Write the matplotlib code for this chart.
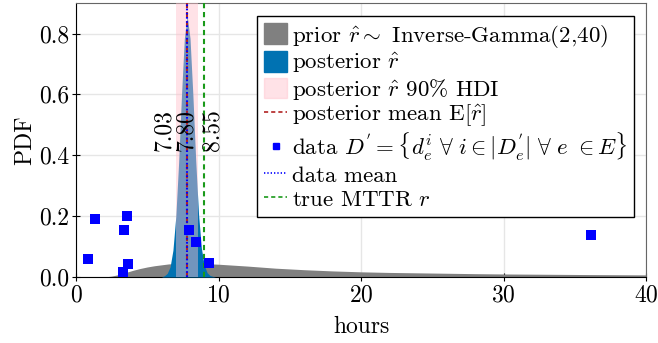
import numpy as np
import matplotlib
matplotlib.use("Agg")
import matplotlib.pyplot as plt
from matplotlib.patches import Patch
from matplotlib.lines import Line2D

plt.rcParams["font.family"] = "serif"
plt.rcParams["font.serif"] = ["cmr10"]
plt.rcParams["mathtext.fontset"] = "cm"
plt.rcParams["axes.formatter.use_mathtext"] = True

# prior curve
prior_x = [2.0, 2.5, 3.0, 3.5, 4.0, 4.5, 5.0, 5.5, 6.0, 6.5, 7.0, 8.0, 9.0, 10.0,
           12.0, 14.0, 16.0, 18.0, 20.0, 22.0, 25.0, 28.0, 30.0, 33.0, 36.0, 40.0]
prior_y = [0.0, 0.003, 0.008, 0.015, 0.022, 0.028, 0.033, 0.037, 0.040, 0.043, 0.044,
           0.045, 0.044, 0.042, 0.036, 0.029, 0.024, 0.020, 0.017, 0.015, 0.013,
           0.011, 0.010, 0.009, 0.008, 0.007]

# posterior curve
post_x = [6.0, 6.2, 6.4, 6.6, 6.8, 7.0, 7.2, 7.4, 7.6, 7.8, 8.0, 8.2, 8.4, 8.6,
          8.8, 9.0, 9.2, 9.4, 9.6, 9.8]
post_y = [0.0, 0.004, 0.012, 0.033, 0.088, 0.198, 0.376, 0.596, 0.784, 0.858,
          0.784, 0.598, 0.382, 0.205, 0.094, 0.038, 0.014, 0.005, 0.002, 0.0]

hdi_low, post_mean, hdi_high = 7.03, 7.80, 8.55
true_mttr = 9.0

data_x = [0.82, 1.33, 3.29, 3.36, 3.57, 3.64, 7.90, 8.39, 9.30, 36.1]
data_y = [0.059, 0.190, 0.016, 0.154, 0.200, 0.043, 0.154, 0.115, 0.046, 0.138]
data_mean = np.mean(data_x)

blue = "#0072b2"
dash = (0, (2.5, 1.8))
dot = (0, (0.8, 1.2))
fig = plt.figure(figsize=(6.58, 3.43), dpi=100)
ax = fig.add_axes([0.1155, 0.1924, 0.8665, 0.7986])

ax.fill_between(prior_x, 0, prior_y, color="#808080", lw=0, zorder=2)
ax.fill_between(post_x, 0, post_y, color=blue, lw=0, zorder=3)
ax.axvspan(hdi_low, hdi_high, color="pink", alpha=0.45, lw=0, zorder=4)
ax.axvline(post_mean, color="#b22222", ls=dash, lw=1.5, zorder=5)
ax.axvline(data_mean, color="blue", ls=dot, lw=1.5, zorder=5)
ax.axvline(true_mttr, color="#1a9a1a", ls=dash, lw=1.5, zorder=5)
ax.scatter(data_x, data_y, marker="s", s=60, color="blue", lw=0, zorder=6)

ax.text(6.95, 0.415, f"{hdi_low:.2f}", rotation=90, ha="right", va="bottom", fontsize=17, zorder=7)
ax.text(7.75, 0.415, f"{post_mean:.2f}", rotation=90, ha="center", va="bottom", fontsize=17, zorder=7)
ax.text(8.8, 0.415, f"{hdi_high:.2f}", rotation=90, ha="left", va="bottom", fontsize=17, zorder=7)

ax.set_xlim(0, 40)
ax.set_ylim(0, 0.9)
ax.set_xticks([0, 10, 20, 30, 40])
ax.set_yticks([0.0, 0.2, 0.4, 0.6, 0.8])
ax.set_yticklabels(["0.0", "0.2", "0.4", "0.6", "0.8"])
ax.tick_params(direction="inout", length=6, labelsize=17, color="black", pad=2)
ax.grid(True, color="#e6e6e6", lw=1, zorder=0)
ax.set_axisbelow(True)
ax.set_xlabel("hours", fontsize=17, labelpad=7)
ax.set_ylabel("PDF", fontsize=17, labelpad=2)
for s in ["top", "right"]:
    ax.spines[s].set_color("#666666")
for s in ["left", "bottom"]:
    ax.spines[s].set_color("black")

handles = [
    Patch(color="#808080", label=r"prior $\hat{r} \sim$ Inverse-Gamma(2,40)"),
    Patch(color=blue, label=r"posterior $\hat{r}$"),
    Patch(color="pink", alpha=0.45, label=r"posterior $\hat{r}$ 90% HDI"),
    Line2D([], [], color="#b22222", ls=dash, lw=1.2, label=r"posterior mean E$[\hat{r}]$"),
    Line2D([], [], color="blue", marker="s", ls="none", ms=5,
           label=r"data $D^{'} = \{d_e^i\ \forall\ i \in |D_e^{'}|\ \forall\ e\ \in E\}$"),
    Line2D([], [], color="blue", ls=dot, lw=1.2, label="data mean"),
    Line2D([], [], color="#1a9a1a", ls=dash, lw=1.2, label=r"true MTTR $r$"),
]
leg = ax.legend(handles=handles, loc="upper right", fontsize=16.5, frameon=True, fancybox=False,
                edgecolor="black", framealpha=1, labelspacing=0.06, handlelength=1.0,
                handleheight=1.0, handletextpad=0.2, borderpad=0.3, borderaxespad=0.55)
leg.get_frame().set_linewidth(1.0)
leg.set_zorder(10)

fig.savefig("out.png", dpi=100)
